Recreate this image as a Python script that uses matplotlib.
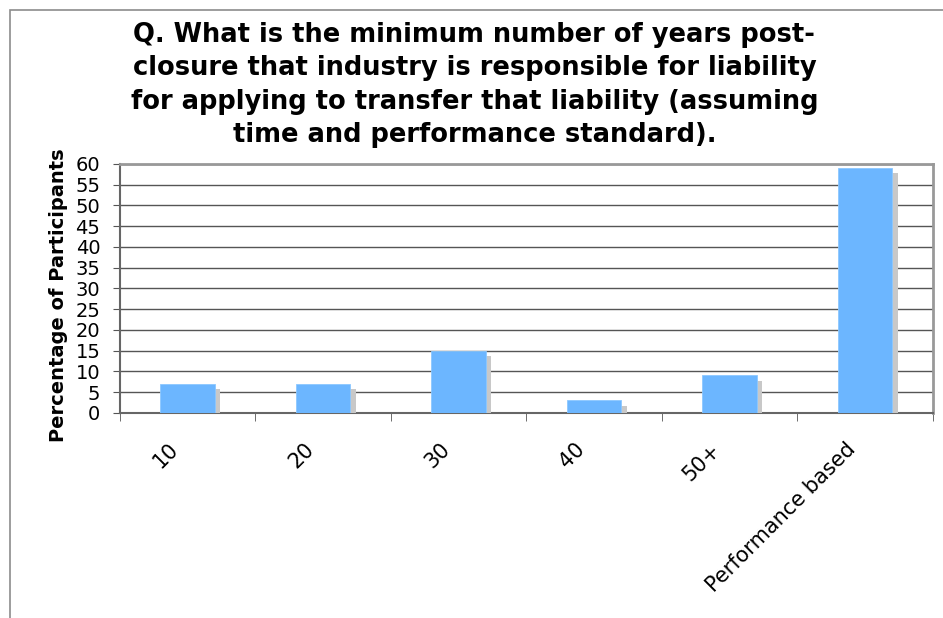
import matplotlib.pyplot as plt
import matplotlib.patheffects as pe
import matplotlib.transforms as mtransforms
from matplotlib.patches import Rectangle

# survey answers
categories = ['10', '20', '30', '40', '50+', 'Performance based']
percent = [7, 7, 15, 3, 9, 59]
yticks = list(range(0, 61, 5))

title = ('Q. What is the minimum number of years post-\n'
         'closure that industry is responsible for liability\n'
         'for applying to transfer that liability (assuming\n'
         'time and performance standard).')

plt.rcParams['font.family'] = 'DejaVu Sans'

fig = plt.figure(figsize=(9.43, 6.18), dpi=100)
fig.patches.append(Rectangle((10 / 943, -0.1), 1.1, (608 / 618) + 0.1,
                             transform=fig.transFigure, fill=False,
                             edgecolor='#8c8c8c', linewidth=1.2))

ax = fig.add_axes([0.127, 0.332, 0.862, 0.403])
x = list(range(len(categories)))
shadow = [pe.SimplePatchShadow(offset=(4, -4), shadow_rgbFace='#c8c8c8', alpha=1.0), pe.Normal()]
bars = ax.bar(x, percent, width=0.4, color='#6cb6ff', edgecolor='#8cc8ff',
              linewidth=0.6, zorder=3)
for b in bars:
    b.set_path_effects(shadow)

ax.set_xlim(-0.5, len(categories) - 0.5)
ax.set_ylim(0, 60)
ax.set_yticks(yticks)
ax.set_yticklabels([str(t) for t in yticks], fontsize=14)
ax.yaxis.grid(True, color='#555555', linewidth=1.0, zorder=0)
ax.set_axisbelow(True)

ax.set_xticks(x)
ax.set_xticklabels(categories, rotation=45, ha='right', va='center',
                   rotation_mode='anchor', fontsize=15)
ax.tick_params(axis='x', length=0, pad=24)
# nudge the slanted labels a little to the left
shift = mtransforms.ScaledTranslation(-12 / 100, 0, fig.dpi_scale_trans)
for lbl in ax.get_xticklabels():
    lbl.set_transform(lbl.get_transform() + shift)
ax.set_xticks([i - 0.5 for i in range(len(categories) + 1)], minor=True)
ax.tick_params(axis='x', which='minor', length=6, color='#555555')
ax.tick_params(axis='y', length=5, color='#555555', pad=9)

for s in ['top', 'right']:
    ax.spines[s].set_color('#999999')
    ax.spines[s].set_linewidth(2)
ax.spines['left'].set_color('#666666')
ax.spines['bottom'].set_color('#666666')
ax.spines['left'].set_linewidth(1.5)
ax.spines['bottom'].set_linewidth(1.5)

ax.set_ylabel('Percentage of Participants', fontsize=14, fontweight='bold')
ax.yaxis.set_label_coords(-0.064, 0.474)
fig.text(0.503, 0.964, title, ha='center', va='top', fontsize=18.5,
         fontweight='bold', linespacing=1.36)

plt.savefig('out.png', dpi=100)
